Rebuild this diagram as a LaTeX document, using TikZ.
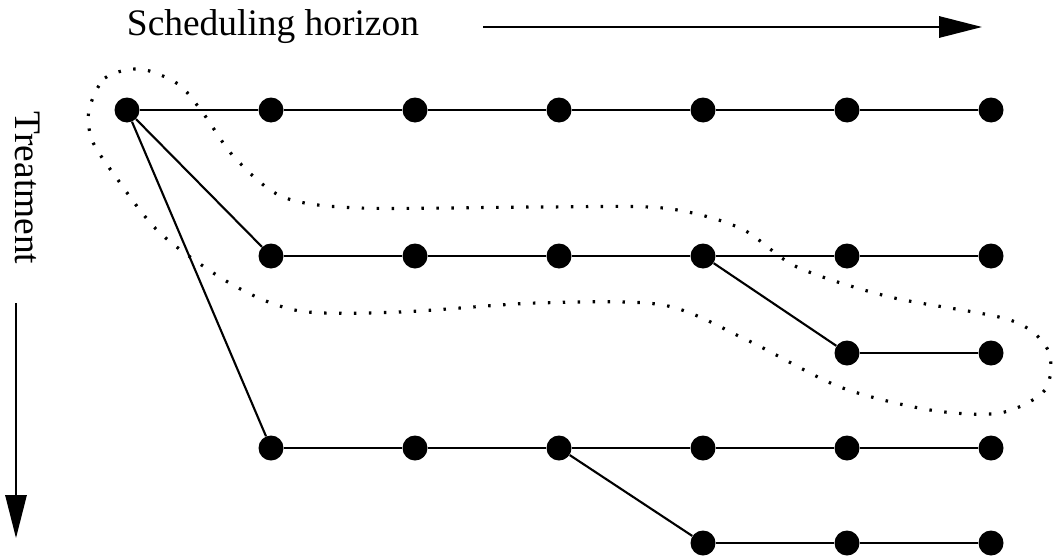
\documentclass[tikz,border=0pt]{standalone}
\usepackage{fontspec}
\setmainfont{Liberation Serif}
\usetikzlibrary{arrows.meta, positioning}

\begin{document}
\begin{tikzpicture}[node distance=2.88cm, on grid,
    dot/.style={circle, fill=black, inner sep=0pt, minimum size=0.5cm},
    caption/.style={inner sep=0pt, font=\fontsize{21.3}{25}\selectfont},
    axis/.style={line width=0.8pt, -{Triangle[length=0.86cm, width=0.43cm]}},
    link/.style={line width=1.2pt},
    group/.style={line width=1.8pt, dash pattern=on 1.4pt off 7.1pt}]

    \useasboundingbox (-2.54,-8.94) rectangle (18.62,2.20);

    % axis labels
    \node[caption] (sched) at (2.92,1.66) {Scheduling horizon};
    \coordinate (hs) at (7.12,1.66);
    \coordinate (he) at (17.10,1.66);
    \draw[axis] (hs) -- (he);

    \node[caption, rotate=-90] (treat) at (-1.98,-1.56) {Treatment};
    \coordinate (vs) at (-2.22,-3.86);
    \coordinate (ve) at (-2.22,-8.56);
    \draw[axis] (vs) -- (ve);

    % top row
    \node[dot] (A1) at (0,0) {};
    \node[dot, right=of A1] (A2) {};
    \node[dot, right=of A2] (A3) {};
    \node[dot, right=of A3] (A4) {};
    \node[dot, right=of A4] (A5) {};
    \node[dot, right=of A5] (A6) {};
    \node[dot, right=of A6] (A7) {};

    % second row
    \node[dot, below right=2.92cm and 2.88cm of A1] (B2) {};
    \node[dot, right=of B2] (B3) {};
    \node[dot, right=of B3] (B4) {};
    \node[dot, right=of B4] (B5) {};
    \node[dot, right=of B5] (B6) {};
    \node[dot, right=of B6] (B7) {};

    % branch off the second row
    \node[dot, below=1.94cm of B6] (C6) {};
    \node[dot, right=of C6] (C7) {};

    % fourth row
    \node[dot, below=3.84cm of B2] (D2) {};
    \node[dot, right=of D2] (D3) {};
    \node[dot, right=of D3] (D4) {};
    \node[dot, right=of D4] (D5) {};
    \node[dot, right=of D5] (D6) {};
    \node[dot, right=of D6] (D7) {};

    % branch off the fourth row
    \node[dot, below=1.9cm of D5] (E5) {};
    \node[dot, right=of E5] (E6) {};
    \node[dot, right=of E6] (E7) {};

    \path[link]
    (A1) edge (A2)
    (A2) edge (A3)
    (A3) edge (A4)
    (A4) edge (A5)
    (A5) edge (A6)
    (A6) edge (A7)
    (A1) edge (B2)
    (B2) edge (B3)
    (B3) edge (B4)
    (B4) edge (B5)
    (B5) edge (B6)
    (B6) edge (B7)
    (B5) edge (C6)
    (C6) edge (C7)
    (A1) edge (D2)
    (D2) edge (D3)
    (D3) edge (D4)
    (D4) edge (D5)
    (D5) edge (D6)
    (D6) edge (D7)
    (D4) edge (E5)
    (E5) edge (E6)
    (E6) edge (E7);

    % dotted outline round one path
    \draw[group] plot[smooth cycle] coordinates {
        (-0.76,0) (-0.44,0.64) (0.26,0.82) (1.02,0.52) (1.52,-0.06)
        (2.16,-0.96) (3.12,-1.74) (4.66,-1.96) (8.26,-1.94) (10.72,-1.96)
        (12.26,-2.36) (13.40,-3.14) (15.26,-3.74) (17.66,-4.20) (18.42,-4.80)
        (18.36,-5.60) (17.46,-6.06) (16.06,-6.00) (14.26,-5.54) (12.40,-4.60)
        (10.72,-3.90) (8.20,-3.86) (5.46,-4.04) (3.46,-4.02) (2.12,-3.50)
        (0.66,-2.46) (-0.28,-1.26) (-0.70,-0.60)};

\end{tikzpicture}
\end{document}
